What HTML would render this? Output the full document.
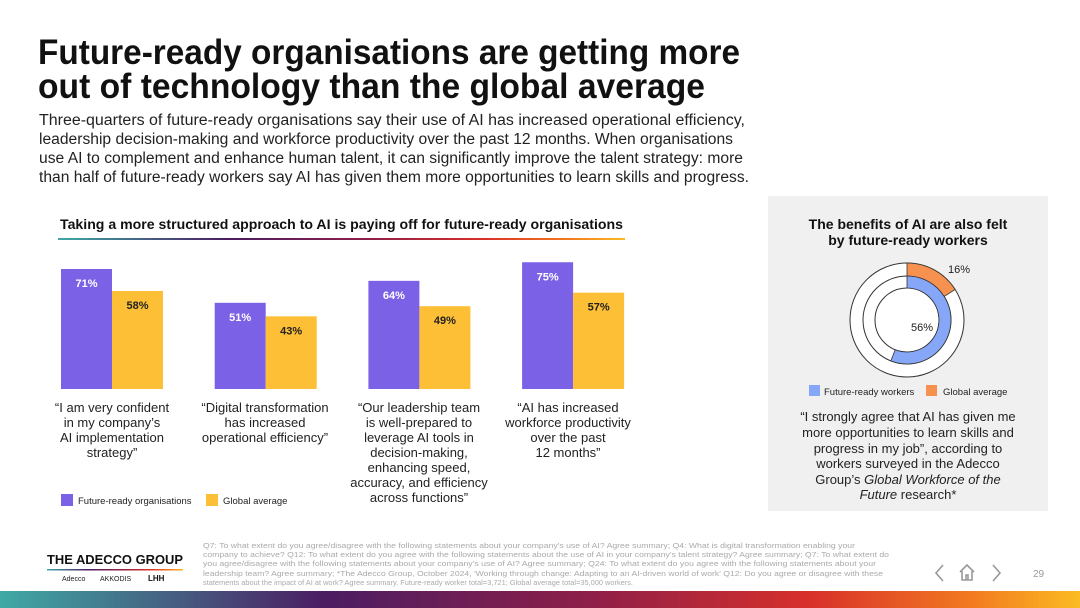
<!DOCTYPE html>
<html><head><meta charset="utf-8"><style>
html,body{margin:0;padding:0;background:#fff;width:1080px;height:608px;overflow:hidden}
svg{display:block;font-family:"Liberation Sans",sans-serif}
</style></head><body>
<svg id="s" width="1080" height="608" viewBox="0 0 1080 608">
<defs>
<linearGradient id="g1" x1="0" x2="1" y1="0" y2="0">
<stop offset="0" stop-color="#3fa9a5"/><stop offset="0.3" stop-color="#4b1d62"/><stop offset="0.55" stop-color="#8f1f48"/><stop offset="0.75" stop-color="#d8302a"/><stop offset="0.9" stop-color="#f27a20"/><stop offset="1" stop-color="#fbbb22"/>
</linearGradient>
</defs>
<g font-weight="bold" font-size="35" fill="#111">
<text x="38" y="64" textLength="702" lengthAdjust="spacingAndGlyphs">Future-ready organisations are getting more</text>
<text x="38" y="98" textLength="667" lengthAdjust="spacingAndGlyphs">out of technology than the global average</text>
</g>
<g font-size="15.5" fill="#222">
<text x="39" y="125" textLength="706" lengthAdjust="spacingAndGlyphs">Three-quarters of future-ready organisations say their use of AI has increased operational efficiency,</text>
<text x="39" y="144" textLength="694" lengthAdjust="spacingAndGlyphs">leadership decision-making and workforce productivity over the past 12 months. When organisations</text>
<text x="39" y="163" textLength="704" lengthAdjust="spacingAndGlyphs">use AI to complement and enhance human talent, it can significantly improve the talent strategy: more</text>
<text x="39" y="182" textLength="710" lengthAdjust="spacingAndGlyphs">than half of future-ready workers say AI has given them more opportunities to learn skills and progress.</text>
</g>
<text x="60" y="229" font-size="14" font-weight="bold" fill="#111" textLength="563" lengthAdjust="spacingAndGlyphs">Taking a more structured approach to AI is paying off for future-ready organisations</text>
<rect x="58" y="238" width="567" height="2" fill="url(#g1)"/>
<g id="bars"></g>
<g font-size="13" fill="#222" text-anchor="middle">
<text x="112" y="412">“I am very confident</text><text x="112" y="427">in my company’s</text><text x="112" y="442">AI implementation</text><text x="112" y="457">strategy”</text>
<text x="265" y="412">“Digital transformation</text><text x="265" y="427">has increased</text><text x="265" y="442">operational efficiency”</text>
<text x="419" y="412">“Our leadership team</text><text x="419" y="427">is well-prepared to</text><text x="419" y="442">leverage AI tools in</text><text x="419" y="457">decision-making,</text><text x="419" y="472">enhancing speed,</text><text x="419" y="487">accuracy, and efficiency</text><text x="419" y="502">across functions”</text>
<text x="568" y="412">“AI has increased</text><text x="568" y="427">workforce productivity</text><text x="568" y="442">over the past</text><text x="568" y="457">12 months”</text>
</g>
<g font-size="9.5" fill="#222">
<rect x="61" y="494" width="12" height="12" fill="#7b61e6"/><text x="78" y="504">Future-ready organisations</text>
<rect x="206" y="494" width="12" height="12" fill="#fdbf35"/><text x="223" y="504">Global average</text>
</g>
<rect x="768" y="196" width="280" height="315" fill="#f0f0f0"/>
<g font-size="14" font-weight="bold" fill="#111" text-anchor="middle">
<text x="908" y="229">The benefits of AI are also felt</text><text x="908" y="245">by future-ready workers</text>
</g>
<g id="donut"></g>
<g font-size="9.5" fill="#222">
<rect x="809" y="385" width="11" height="11" fill="#86a6f7"/><text x="824" y="395">Future-ready workers</text>
<rect x="926" y="385" width="11" height="11" fill="#f79150"/><text x="943" y="395">Global average</text>
</g>
<g font-size="13" fill="#222" text-anchor="middle">
<text x="908" y="421">“I strongly agree that AI has given me</text>
<text x="908" y="437">more opportunities to learn skills and</text>
<text x="908" y="453">progress in my job”, according to</text>
<text x="908" y="468">workers surveyed in the Adecco</text>
<text x="908" y="484">Group’s <tspan font-style="italic">Global Workforce of the</tspan></text>
<text x="908" y="499"><tspan font-style="italic">Future</tspan> research*</text>
</g>
<g>
<text x="47" y="564" font-size="12.5" font-weight="bold" fill="#111" textLength="136" lengthAdjust="spacingAndGlyphs">THE ADECCO GROUP</text>
<rect x="47" y="569" width="136" height="1.5" fill="url(#g1)"/>
<text x="62" y="581" font-size="7" fill="#222">Adecco</text><text x="100" y="581" font-size="7" fill="#222">AKKODIS</text><text x="148" y="581" font-size="8" font-weight="bold" fill="#111">LHH</text>
</g>
<g font-size="7.3" fill="#aaa">
<text x="203" y="548" textLength="652" lengthAdjust="spacingAndGlyphs">Q7: To what extent do you agree/disagree with the following statements about your company's use of AI? Agree summary; Q4: What is digital transformation enabling your</text>
<text x="203" y="557" textLength="686" lengthAdjust="spacingAndGlyphs">company to achieve? Q12: To what extent do you agree with the following statements about the use of AI in your company's talent strategy? Agree summary; Q7: To what extent do</text>
<text x="203" y="566" textLength="673" lengthAdjust="spacingAndGlyphs">you agree/disagree with the following statements about your company's use of AI? Agree summary; Q24: To what extent do you agree with the following statements about your</text>
<text x="203" y="576" textLength="680" lengthAdjust="spacingAndGlyphs">leadership team? Agree summary; *The Adecco Group, October 2024, 'Working through change: Adapting to an AI-driven world of work' Q12: Do you agree or disagree with these</text>
<text x="203" y="585" textLength="430" lengthAdjust="spacingAndGlyphs">statements about the impact of AI at work? Agree summary. Future-ready worker total=3,721; Global average total=35,000 workers.</text>
</g>
<g stroke="#999" stroke-width="1.6" fill="none">
<path d="M943 565 L936 573 L943 581"/>
<path d="M960 572 L967 565 L974 572 M962 571 V580 H972 V571 M966 580 V575 H968 V580"/>
<path d="M993 565 L1000 573 L993 581"/>
</g>
<text x="1033" y="577" font-size="10" fill="#999">29</text>
<rect x="0" y="591" width="1080" height="17" fill="url(#g1)"/>
</svg>
<script>
const categories = ["Confident in AI strategy","Operational efficiency","Leadership decision-making","Workforce productivity"];
const futureReady = [71, 51, 64, 75];
const globalAvg = [58, 43, 49, 57];
const donutSeries = ["Future-ready workers","Global average"];
const donutValues = [56, 16];

const NS="http://www.w3.org/2000/svg";
function mk(tag,attrs,parent){const e=document.createElementNS(NS,tag);for(const k in attrs)e.setAttribute(k,attrs[k]);parent.appendChild(e);return e;}
const baseY=389, pxPer=1.69;
const yScale=v=>baseY-v*pxPer;
const xScale=i=>61+i*153.7;
const barW=51;
const bars=document.getElementById('bars');
categories.forEach((c,i)=>{
  const x=xScale(i);
  [[futureReady[i],'#7b61e6','#fff',0,'future-ready'],[globalAvg[i],'#fdbf35','#222',barW,'global-average']].forEach(([v,col,tc,off,nm])=>{
    const r=mk('rect',{x:x+off,y:yScale(v),width:barW,height:v*pxPer,fill:col},bars);
    
    
    const t=mk('text',{x:x+off+barW/2,y:yScale(v)+18,'font-size':11,'font-weight':'bold',fill:tc,'text-anchor':'middle'},bars);
    t.textContent=v+'%';
    
    
  });
});
// donut
const d=document.getElementById('donut');
const cx=907, cy=320;
function arc(r0,r1,frac){
  const a=frac*2*Math.PI;
  if(frac>=0.9999){frac=0.9999;}
  const x1=cx+r1*Math.sin(a), y1=cy-r1*Math.cos(a), x0=cx+r0*Math.sin(a), y0=cy-r0*Math.cos(a);
  const lg=frac>0.5?1:0;
  return `M${cx} ${cy-r1} A${r1} ${r1} 0 ${lg} 1 ${x1} ${y1} L${x0} ${y0} A${r0} ${r0} 0 ${lg} 0 ${cx} ${cy-r0} Z`;
}
mk('circle',{cx,cy,r:57,fill:'#fff',stroke:'#333','stroke-width':1},d);
mk('circle',{cx,cy,r:44,fill:'#fff',stroke:'#333','stroke-width':1},d);
mk('circle',{cx,cy,r:32,fill:'#fff',stroke:'#333','stroke-width':1},d);
const o=mk('path',{d:arc(44,57,donutValues[1]/100),fill:'#f79150',stroke:'#333','stroke-width':0.8},d);


const b=mk('path',{d:arc(32,44,donutValues[0]/100),fill:'#86a6f7',stroke:'#333','stroke-width':0.8},d);


const t1=mk('text',{x:959,y:273,'font-size':11,fill:'#222','text-anchor':'middle'},d);
t1.textContent=donutValues[1]+'%';


const t2=mk('text',{x:922,y:331,'font-size':11,fill:'#222','text-anchor':'middle'},d);
t2.textContent=donutValues[0]+'%';


</script>
</body></html>
